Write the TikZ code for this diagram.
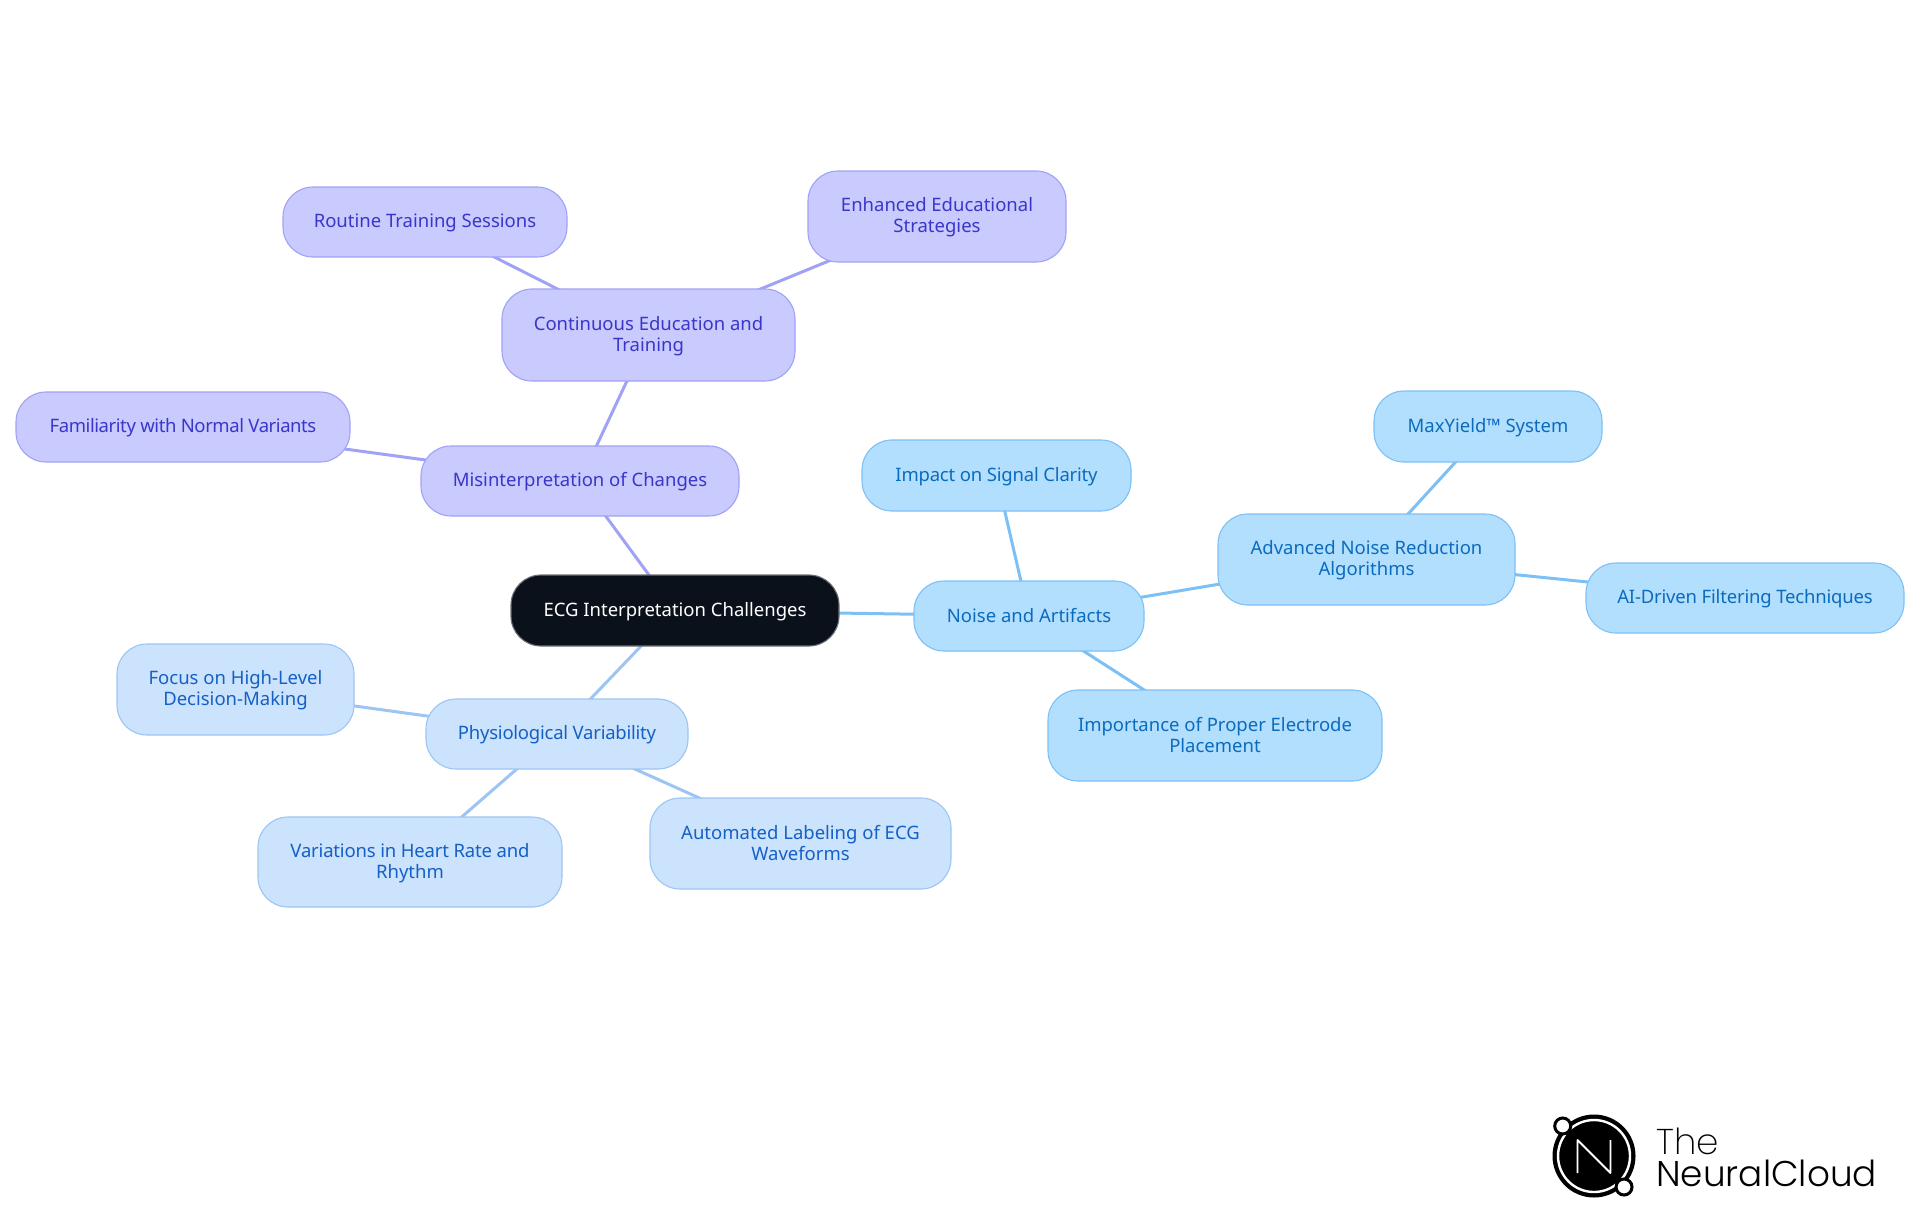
\documentclass[tikz,border=0pt]{standalone}
\usepackage{fontspec}
\setmainfont{Noto Sans}
\newfontfamily\logolight[UprightFont=* ExtraLight]{Poppins}
\newfontfamily\logoreg[UprightFont=* Light]{Poppins}
\usetikzlibrary{backgrounds}
\definecolor{rootfill}{HTML}{0B111B}
\definecolor{rootline}{HTML}{6E7178}
\definecolor{purpfill}{HTML}{C9CAFE}
\definecolor{purpline}{HTML}{A0A2F5}
\definecolor{purptext}{HTML}{3A36CA}
\definecolor{skyfill}{HTML}{B3DFFF}
\definecolor{skyline}{HTML}{7CC0F5}
\definecolor{skytext}{HTML}{0B6BBD}
\definecolor{palefill}{HTML}{CCE3FD}
\definecolor{paleline}{HTML}{9CC5F3}
\definecolor{paletext}{HTML}{1560C4}
\tikzset{
  x=0.5pt,y=-0.5pt,
  mapnode/.style={rectangle,rounded corners=15pt,inner sep=0pt,align=center,line width=0.55pt,font=\fontsize{9.25}{10.4}\selectfont},
  rootnode/.style={mapnode,fill=rootfill,draw=rootline,text=white},
  purpnode/.style={mapnode,fill=purpfill,draw=purpline,text=purptext},
  skynode/.style={mapnode,fill=skyfill,draw=skyline,text=skytext},
  palenode/.style={mapnode,fill=palefill,draw=paleline,text=paletext},
  purpedge/.style={draw=purpline,line width=1.5pt},
  skyedge/.style={draw=skyline,line width=1.5pt},
  paleedge/.style={draw=paleline,line width=1.5pt},
}
\newcommand{\sta}{\rule{0pt}{8pt}}
\newcommand{\stb}{\rule[-1.8pt]{0pt}{1pt}}
\newcommand{\st}{\rule[-1.8pt]{0pt}{9.8pt}}
\newcommand{\tight}[1]{\addfontfeature{LetterSpace=#1}}
\newcommand{\mapbox}[7]{%
  \node[#6,minimum width={(#4-#2)*0.5pt},minimum height={(#5-#3)*0.5pt}] (#1) at ({(#2+#4)/2},{(#3+#5)/2}) {#7};}
\begin{document}
\begin{tikzpicture}
\useasboundingbox (0,0) rectangle (1920,1215);
\mapbox{root}{511}{575}{839}{646}{rootnode}{\st ECG Interpretation Challenges}
\mapbox{mis}{421}{446}{739}{516}{purpnode}{\st Misinterpretation of Changes}
\mapbox{cont}{502}{289}{795}{381}{purpnode}{\sta Continuous Education and\\Training\stb}
\mapbox{rout}{283}{187}{567}{257}{purpnode}{\st Routine Training Sessions}
\mapbox{enh}{808}{171}{1066}{262}{purpnode}{\sta Enhanced Educational\\Strategies\stb}
\mapbox{fam}{16}{392}{350}{462}{purpnode}{\tight{-2.3}\st Familiarity with Normal Variants}
\mapbox{noise}{914}{581}{1144}{651}{skynode}{\st Noise and Artifacts}
\mapbox{imp}{862}{440}{1131}{511}{skynode}{\tight{-1.1}\st Impact on Signal Clarity}
\mapbox{adv}{1218}{514}{1515}{605}{skynode}{\sta Advanced Noise Reduction\\Algorithms\stb}
\mapbox{max}{1374}{391}{1602}{462}{skynode}{\st MaxYield™ System}
\mapbox{ai}{1586}{563}{1904}{633}{skynode}{\tight{-1}\st AI-Driven Filtering Techniques}
\mapbox{elec}{1048}{690}{1382}{781}{skynode}{\sta Importance of Proper Electrode\\Placement\stb}
\mapbox{phys}{426}{699}{688}{769}{palenode}{\tight{-1.3}\st Physiological Variability}
\mapbox{focus}{117}{644}{354}{735}{palenode}{\sta Focus on High-Level\\Decision-Making\stb}
\mapbox{vari}{258}{817}{562}{907}{palenode}{\tight{-1}\sta Variations in Heart Rate and\\Rhythm\stb}
\mapbox{auto}{650}{798}{951}{889}{palenode}{\sta Automated Labeling of ECG\\Waveforms\stb}
\begin{pgfonlayer}{background}
\draw[purpedge] (root.center) -- (mis.center);
\draw[purpedge] (mis.center) -- (cont.center);
\draw[purpedge] (mis.center) -- (fam.center);
\draw[purpedge] (cont.center) -- (rout.center);
\draw[purpedge] (cont.center) -- (enh.center);
\draw[skyedge] (root.center) -- (noise.center);
\draw[skyedge] (noise.center) -- (imp.center);
\draw[skyedge] (noise.center) -- (adv.center);
\draw[skyedge] (noise.center) -- (elec.center);
\draw[skyedge] (adv.center) -- (max.center);
\draw[skyedge] (adv.center) -- (ai.center);
\draw[paleedge] (root.center) -- (phys.center);
\draw[paleedge] (phys.center) -- (focus.center);
\draw[paleedge] (phys.center) -- (vari.center);
\draw[paleedge] (phys.center) -- (auto.center);
\end{pgfonlayer}
% logo
\fill[black] (1594,1156) circle[radius=41.5];
\draw[white,line width=1.2pt] (1594,1156) circle[radius=36];
\draw[white,line width=0.9pt,line join=round] (1577.5,1173) -- (1577.5,1140) -- (1610.5,1173) -- (1610.5,1140);
\draw[black,fill=white,line width=1.5pt] (1562.7,1126) circle[radius=8];
\draw[black,fill=white,line width=1.5pt] (1624,1187) circle[radius=8];
\node[anchor=west,inner sep=0pt,align=left,font=\fontsize{17.9}{16}\selectfont] (logo) at (1656,1157.5) {{\logolight The}\\{\logoreg NeuralCloud}};
\end{tikzpicture}
\end{document}
